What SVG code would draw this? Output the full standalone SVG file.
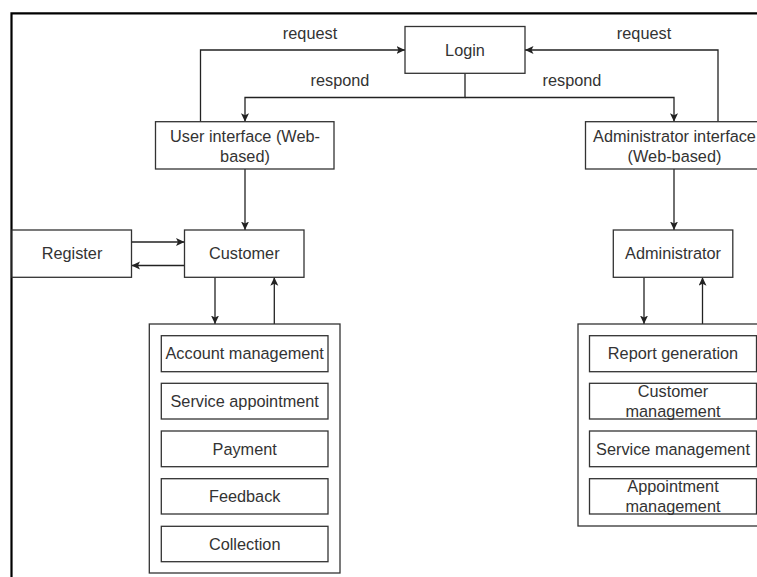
<svg xmlns="http://www.w3.org/2000/svg" width="757" height="577" viewBox="0 0 757 577">
  <style>
    .box { fill: #ffffff; stroke: #333333; stroke-width: 1.3; }
    .wire { fill: none; stroke: #222222; stroke-width: 1.3; }
    .frame { fill: none; stroke: #000000; stroke-width: 2.2; }
    text { font-family: "Liberation Sans", Arial, sans-serif; font-size: 16.3px; fill: #333333; text-anchor: middle; }
  </style>
  <defs>
    <marker id="arrow" markerUnits="userSpaceOnUse" markerWidth="10" markerHeight="10" refX="8.5" refY="4" orient="auto">
      <path d="M0,0 L8.5,4 L0,8 L2,4 Z" fill="#222222"/>
    </marker>
  </defs>

  <rect width="757" height="577" fill="#ffffff"/>

  <!-- outer frame -->
  <path class="frame" d="M11.5 577 V13.3 H757"/>

  <!-- connectors -->
  <g id="connectors">
    <path class="wire" d="M200.5 121.7 V50 H405" marker-end="url(#arrow)"/>
    <path class="wire" d="M718 121.7 V50 H525" marker-end="url(#arrow)"/>
    <path class="wire" d="M465 73.3 V97.5 H245 V121.7" marker-end="url(#arrow)"/>
    <path class="wire" d="M465 97.5 H674 V121.7" marker-end="url(#arrow)"/>
    <path class="wire" d="M245 169 V230" marker-end="url(#arrow)"/>
    <path class="wire" d="M674 169 V230" marker-end="url(#arrow)"/>
    <path class="wire" d="M131.5 242 H184.5" marker-end="url(#arrow)"/>
    <path class="wire" d="M184.5 265.5 H131.5" marker-end="url(#arrow)"/>
    <path class="wire" d="M215 277.3 V324" marker-end="url(#arrow)"/>
    <path class="wire" d="M274.3 324 V277.3" marker-end="url(#arrow)"/>
    <path class="wire" d="M644 277.3 V324" marker-end="url(#arrow)"/>
    <path class="wire" d="M702.5 324 V277.3" marker-end="url(#arrow)"/>
    <text x="310" y="38.7">request</text>
    <text x="644" y="38.7">request</text>
    <text x="340" y="85.7">respond</text>
    <text x="572" y="85.7">respond</text>
  </g>

  <g id="login">
    <rect class="box" x="405" y="26.5" width="120" height="46.8"/>
    <text x="465" y="55.7">Login</text>
  </g>

  <g id="user-interface">
    <rect class="box" x="155.5" y="121.7" width="178.5" height="47.3"/>
    <text x="245" y="142.4">User interface (Web-</text>
    <text x="245" y="162.4">based)</text>
  </g>

  <g id="admin-interface">
    <rect class="box" x="585.5" y="121.7" width="178.5" height="47.3"/>
    <text x="674.5" y="142.4">Administrator interface</text>
    <text x="674.5" y="162.4">(Web-based)</text>
  </g>

  <g id="register">
    <rect class="box" x="12" y="230" width="119.5" height="47.3"/>
    <text x="72" y="259">Register</text>
  </g>

  <g id="customer">
    <rect class="box" x="184.5" y="230" width="119.5" height="47.3"/>
    <text x="244.3" y="259">Customer</text>
  </g>

  <g id="administrator">
    <rect class="box" x="613.3" y="230" width="119.5" height="47.3"/>
    <text x="673" y="259">Administrator</text>
  </g>

  <g id="customer-functions">
    <rect class="box" x="149.3" y="324" width="190.7" height="249"/>
    <rect class="box" x="161.3" y="335.7" width="166.7" height="36"/>
    <text x="244.7" y="359.4">Account management</text>
    <rect class="box" x="161.3" y="383.3" width="166.7" height="35.7"/>
    <text x="244.7" y="406.9">Service appointment</text>
    <rect class="box" x="161.3" y="431" width="166.7" height="35.7"/>
    <text x="244.7" y="454.6">Payment</text>
    <rect class="box" x="161.3" y="478.7" width="166.7" height="35.3"/>
    <text x="244.7" y="502.1">Feedback</text>
    <rect class="box" x="161.3" y="526.3" width="166.7" height="35.4"/>
    <text x="244.7" y="549.7">Collection</text>
  </g>

  <g id="admin-functions">
    <rect class="box" x="578" y="324" width="191" height="202"/>
    <rect class="box" x="589.5" y="335.7" width="167" height="36"/>
    <text x="673" y="359.4">Report generation</text>
    <rect class="box" x="589.5" y="383.3" width="167" height="35.7"/>
    <text x="673" y="397.4">Customer</text>
    <text x="673" y="416.7">management</text>
    <rect class="box" x="589.5" y="431" width="167" height="35.7"/>
    <text x="673" y="454.6">Service management</text>
    <rect class="box" x="589.5" y="478.7" width="167" height="35.3"/>
    <text x="673" y="492.4">Appointment</text>
    <text x="673" y="511.7">management</text>
  </g>
</svg>
